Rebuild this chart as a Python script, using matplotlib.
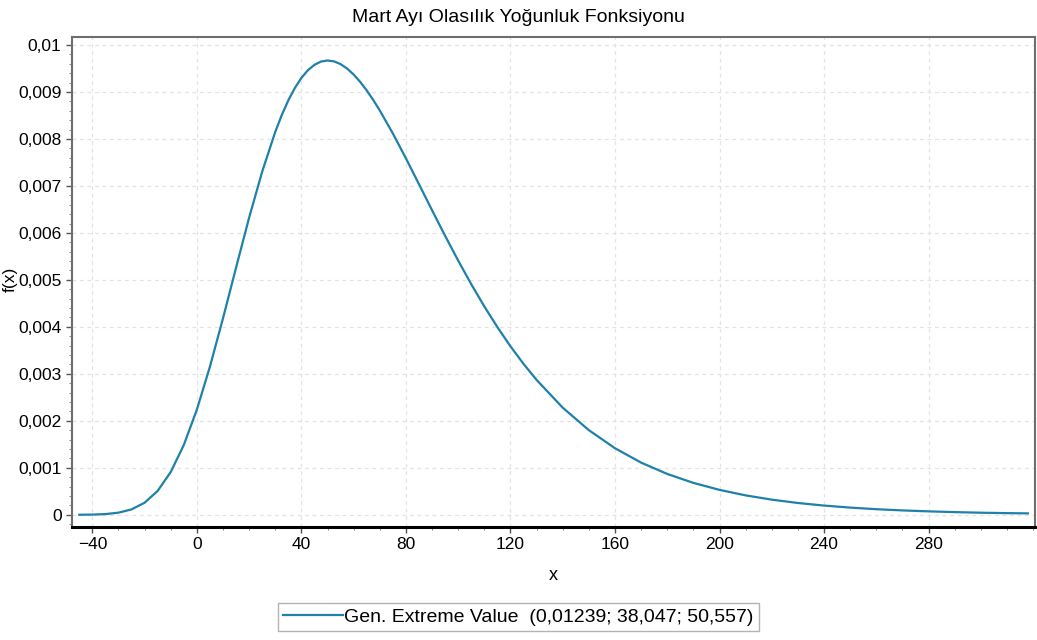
import matplotlib.pyplot as plt
from matplotlib.ticker import MultipleLocator, FixedLocator

plt.rcParams['font.family'] = ['Liberation Sans', 'DejaVu Sans']

# curve values
x_vals = [-45, -40, -35, -30, -25, -20, -15, -10, -5, 0, 5, 10, 15, 20, 25,
          30, 32.5, 35, 37.5, 40, 42.5, 45, 47.5, 50, 52.5, 55, 57.5, 60,
          62.5, 65, 67.5, 70, 75, 80, 85, 90, 95, 100, 105,
          110, 115, 120, 125, 130, 140, 150, 160, 170, 180, 190, 200, 210,
          220, 230, 240, 250, 260, 270, 280, 290, 300, 310, 318]
pdf_vals = [0.000001, 0.000004, 0.000015, 0.000045, 0.000115, 0.000257,
            0.000509, 0.000911, 0.001486, 0.002240, 0.003154, 0.004183,
            0.005262, 0.006326, 0.007305, 0.008151, 0.008510, 0.008822,
            0.009085, 0.009299, 0.009463, 0.009578, 0.009647, 0.009670,
            0.009651, 0.009592, 0.009498, 0.009370, 0.009214, 0.009032,
            0.008828, 0.008605,
            0.008116, 0.007586, 0.007036, 0.006482, 0.005937, 0.005410,
            0.004908, 0.004435, 0.003994, 0.003586, 0.003212, 0.002871,
            0.002280, 0.001801, 0.001417, 0.001110, 0.000869, 0.000679,
            0.000530, 0.000413, 0.000322, 0.000251, 0.000196, 0.000153,
            0.000119, 0.000093, 0.000073, 0.000057, 0.000044, 0.000035,
            0.000030]

x_ticks = [-40, 0, 40, 80, 120, 160, 200, 240, 280]
y_ticks = [0, 0.001, 0.002, 0.003, 0.004, 0.005, 0.006, 0.007, 0.008, 0.009, 0.01]
y_tick_labels = ['0', '0,001', '0,002', '0,003', '0,004', '0,005', '0,006',
                 '0,007', '0,008', '0,009', '0,01']
legend_label = 'Gen. Extreme Value  (0,01239; 38,047; 50,557)'

fig = plt.figure(figsize=(10.37, 6.4), dpi=100)
ax = fig.add_axes([0.0694, 0.1773, 0.9286, 0.7649])

ax.plot(x_vals, pdf_vals, color='#1f80aa', lw=1.6, label=legend_label)

ax.set_xlim(-47.8, 320.7)
ax.set_ylim(-0.00025, 0.01017)

ax.xaxis.set_major_locator(FixedLocator(x_ticks))
ax.xaxis.set_minor_locator(MultipleLocator(10))
ax.set_yticks(y_ticks)
ax.set_yticklabels(y_tick_labels)
ax.yaxis.set_minor_locator(MultipleLocator(0.0002))

ax.tick_params(axis='both', which='major', labelsize=12.5, length=4,
               color='#555555', width=1)
ax.tick_params(axis='both', which='minor', length=2, color='#777777')

ax.grid(True, which='major', ls=(0, (3, 3)), color='#e3e3e3', lw=0.9)

for side in ['top', 'right', 'left']:
    ax.spines[side].set_color('#6e6e6e')
    ax.spines[side].set_linewidth(1.5)
ax.spines['bottom'].set_color('black')
ax.spines['bottom'].set_linewidth(2.2)

fig.text(0.5, 0.973, 'Mart Ayı Olasılık Yoğunluk Fonksiyonu',
         ha='center', va='center', fontsize=14)
ax.set_xlabel('x', fontsize=13, labelpad=11)
fig.text(0.0095, 0.563, 'f(x)', rotation=90, ha='center', va='center',
         fontsize=12.5)

leg = fig.legend(loc='center', bbox_to_anchor=(0.5, 1 - 617 / 640),
                 fontsize=14, frameon=True, fancybox=False,
                 edgecolor='#a0a0a0', handlelength=3.1, handletextpad=0.05,
                 borderpad=0.25, borderaxespad=0)
leg.get_frame().set_linewidth(1.0)

fig.savefig('out.png', dpi=100)
